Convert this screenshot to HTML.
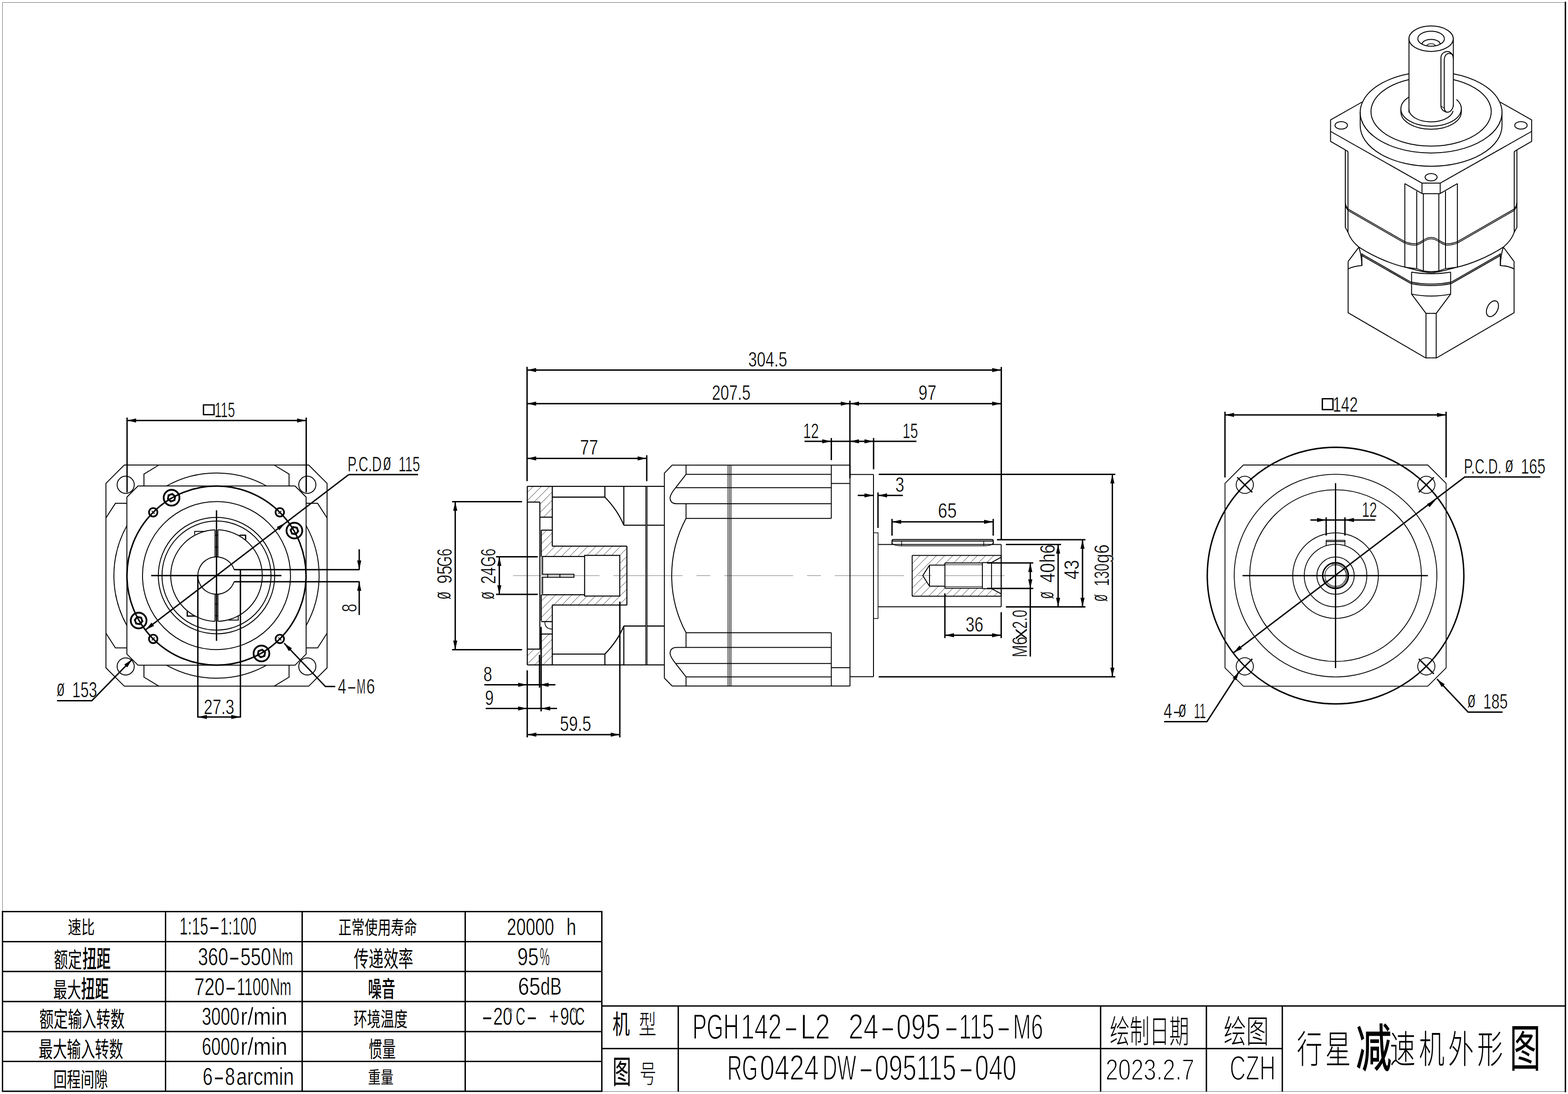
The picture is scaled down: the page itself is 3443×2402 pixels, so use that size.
<!DOCTYPE html>
<html><head><meta charset="utf-8"><title>PGH142-L2 24-095-115-M6</title>
<style>
html,body{margin:0;padding:0;background:#fff}
svg{display:block}
text{font-family:"Liberation Sans",sans-serif;white-space:pre}
text.cjk{font-family:"Liberation Sans","Noto Sans CJK SC",sans-serif}
</style></head>
<body>
<svg xmlns="http://www.w3.org/2000/svg" width="3443" height="2402" viewBox="0 0 3443 2402" fill="none" stroke-linecap="butt" stroke-linejoin="miter">
<rect width="3443" height="2402" fill="#fff" stroke="none"/>
<defs>
<clipPath id="hc1"><path d="M1157.8 1067.8L1212.7 1067.8L1212.7 1135.5L1185.4 1135.5L1185.4 1102.4L1157.8 1102.4Z" clip-rule="evenodd"/></clipPath>
<clipPath id="hc2"><path d="M1185.4 1391.7L1212.7 1391.7L1212.7 1460L1157.8 1460L1157.8 1426.5L1185.4 1426.5Z" clip-rule="evenodd"/></clipPath>
<clipPath id="hc3"><path d="M1188.5 1164L1212.7 1164L1212.7 1199.2L1376.5 1199.2L1376.5 1328.6L1212.7 1328.6L1212.7 1364.8L1188.5 1364.8L1188.5 1304.3L1283.7 1304.3L1283.7 1308.7L1360.9 1308.7L1360.9 1219.4L1283.7 1219.4L1283.7 1221.8L1188.5 1221.8Z" clip-rule="evenodd"/></clipPath>
<clipPath id="hc4"><path d="M2002.9 1219.6L2198.4 1219.6L2198.4 1308.9L2002.9 1308.9ZM2026.3 1263.8L2041 1240.7L2074.8 1240.7L2074.8 1236.1L2157.1 1236.1L2157.1 1235.2L2177.2 1235.2L2198.4 1223.3L2198.4 1303.8L2177.2 1292.4L2157.1 1292.4L2157.1 1291.9L2074.8 1291.9L2074.8 1287.3L2041 1287.3Z" clip-rule="evenodd"/></clipPath>
</defs>
<path d="M5 5.5L3437 5.5" stroke="#6a6a6a" stroke-width="1"/>
<path d="M5.5 5L5.5 2397" stroke="#6a6a6a" stroke-width="1"/>
<path d="M5 2396.5L3437 2396.5" stroke="#6a6a6a" stroke-width="1"/>
<path d="M3437.3 5L3437.3 2397" stroke="#000" stroke-width="3" stroke-linecap="round"/>
<path d="M4 2001.5L1323 2001.5" stroke="#000" stroke-width="3"/>
<path d="M4 2067.5L1323 2067.5" stroke="#000" stroke-width="3"/>
<path d="M4 2133L1323 2133" stroke="#000" stroke-width="3"/>
<path d="M4 2199L1323 2199" stroke="#000" stroke-width="3"/>
<path d="M4 2265L1323 2265" stroke="#000" stroke-width="3"/>
<path d="M4 2330.5L1323 2330.5" stroke="#000" stroke-width="3"/>
<path d="M4 2396L1323 2396" stroke="#000" stroke-width="3"/>
<path d="M5.5 2001.5L5.5 2396" stroke="#000" stroke-width="3"/>
<path d="M363.5 2001.5L363.5 2396" stroke="#000" stroke-width="3"/>
<path d="M663.5 2001.5L663.5 2396" stroke="#000" stroke-width="3"/>
<path d="M1021.5 2001.5L1021.5 2396" stroke="#000" stroke-width="3"/>
<path d="M1321.5 2001.5L1321.5 2396" stroke="#000" stroke-width="3"/>
<path d="M1321.5 2208.7L3437 2208.7" stroke="#000" stroke-width="3"/>
<path d="M1321.5 2302.3L2815.7 2302.3" stroke="#000" stroke-width="3"/>
<path d="M1489.3 2208.7L1489.3 2397" stroke="#000" stroke-width="3"/>
<path d="M2416.7 2208.7L2416.7 2397" stroke="#000" stroke-width="3"/>
<path d="M2649 2208.7L2649 2397" stroke="#000" stroke-width="3"/>
<path d="M2815.7 2208.7L2815.7 2397" stroke="#000" stroke-width="3"/>
<text class="cjk" transform="translate(149 2050) scale(1 1.363)" x="0" y="0" font-size="29.5" textLength="59" lengthAdjust="spacing" fill="#000" stroke="none">速比</text>
<text class="cjk" transform="translate(118.5 2123.5) scale(1 1.521)" x="0" y="0" font-size="30.7" textLength="61.4" lengthAdjust="spacing" fill="#000" stroke="none">额定</text>
<text class="cjk" transform="translate(181 2125) scale(1 1.719)" x="0" y="0" font-size="31" font-weight="500" textLength="62" lengthAdjust="spacing" fill="#000" stroke="none">扭距</text>
<text class="cjk" transform="translate(117 2189.5) scale(1 1.531)" x="0" y="0" font-size="30.5" textLength="61" lengthAdjust="spacing" fill="#000" stroke="none">最大</text>
<text class="cjk" transform="translate(178 2191) scale(1 1.748)" x="0" y="0" font-size="30.5" font-weight="500" textLength="61" lengthAdjust="spacing" fill="#000" stroke="none">扭距</text>
<text class="cjk" transform="translate(86.5 2255.4) scale(1 1.532)" x="0" y="0" font-size="31.2" textLength="187.2" lengthAdjust="spacing" fill="#000" stroke="none">额定输入转数</text>
<text class="cjk" transform="translate(85 2321.4) scale(1 1.547)" x="0" y="0" font-size="30.9" textLength="185.4" lengthAdjust="spacing" fill="#000" stroke="none">最大输入转数</text>
<text class="cjk" transform="translate(117 2386.6) scale(1 1.523)" x="0" y="0" font-size="30" textLength="120" lengthAdjust="spacing" fill="#000" stroke="none">回程间隙</text>
<text class="cjk" transform="translate(743 2050.9) scale(1 1.434)" x="0" y="0" font-size="28.8" textLength="172.8" lengthAdjust="spacing" fill="#000" stroke="none">正常使用寿命</text>
<text class="cjk" transform="translate(777 2123.3) scale(1 1.5)" x="0" y="0" font-size="32.6" textLength="130.4" lengthAdjust="spacing" fill="#000" stroke="none">传递效率</text>
<text class="cjk" transform="translate(808 2189.3) scale(1 1.63)" x="0" y="0" font-size="30" font-weight="500" textLength="60" lengthAdjust="spacing" fill="#000" stroke="none">噪音</text>
<text class="cjk" transform="translate(776.5 2253.7) scale(1 1.507)" x="0" y="0" font-size="29.6" textLength="118.4" lengthAdjust="spacing" fill="#000" stroke="none">环境温度</text>
<text class="cjk" transform="translate(809.5 2321.4) scale(1 1.609)" x="0" y="0" font-size="29.7" textLength="59.4" lengthAdjust="spacing" fill="#000" stroke="none">惯量</text>
<text class="cjk" transform="translate(808 2379.2) scale(1 1.321)" x="0" y="0" font-size="28" textLength="56" lengthAdjust="spacing" fill="#000" stroke="none">重量</text>
<text y="2052" font-size="53.2" fill="#000" stroke="#fff" stroke-width="0.6"><tspan x="394.2" textLength="63.1" lengthAdjust="spacingAndGlyphs">1:15</tspan><tspan x="457.7" textLength="25.9" lengthAdjust="spacingAndGlyphs">-</tspan><tspan x="483.7" textLength="79.4" lengthAdjust="spacingAndGlyphs">1:100</tspan></text>
<text y="2118.7" font-size="54.2" fill="#000" stroke="#fff" stroke-width="0.6"><tspan x="434.7" textLength="66.4" lengthAdjust="spacingAndGlyphs">360</tspan><tspan x="501.5" textLength="25.8" lengthAdjust="spacingAndGlyphs">-</tspan><tspan x="528.1" textLength="67" lengthAdjust="spacingAndGlyphs">550</tspan><tspan x="597.4" textLength="46.1" lengthAdjust="spacingAndGlyphs">Nm</tspan></text>
<text y="2184.7" font-size="54.2" fill="#000" stroke="#fff" stroke-width="0.6"><tspan x="426.8" textLength="66.4" lengthAdjust="spacingAndGlyphs">720</tspan><tspan x="493.6" textLength="25.9" lengthAdjust="spacingAndGlyphs">-</tspan><tspan x="520.3" textLength="70.9" lengthAdjust="spacingAndGlyphs">1100</tspan><tspan x="592.8" textLength="46.8" lengthAdjust="spacingAndGlyphs">Nm</tspan></text>
<text y="2250.3" font-size="54.1" fill="#000" stroke="#fff" stroke-width="0.6"><tspan x="443.2" textLength="82.7" lengthAdjust="spacingAndGlyphs">3000</tspan><tspan x="528.1" textLength="103" lengthAdjust="spacingAndGlyphs">r/min</tspan></text>
<text y="2316" font-size="54.1" fill="#000" stroke="#fff" stroke-width="0.6"><tspan x="443.2" textLength="82.7" lengthAdjust="spacingAndGlyphs">6000</tspan><tspan x="528.1" textLength="103" lengthAdjust="spacingAndGlyphs">r/min</tspan></text>
<text y="2381.6" font-size="53.5" fill="#000" stroke="#fff" stroke-width="0.6"><tspan x="445.1" textLength="22" lengthAdjust="spacingAndGlyphs">6</tspan><tspan x="468.3" textLength="25" lengthAdjust="spacingAndGlyphs">-</tspan><tspan x="494.1" textLength="22" lengthAdjust="spacingAndGlyphs">8</tspan><tspan x="519" textLength="126.4" lengthAdjust="spacingAndGlyphs">arcmin</tspan></text>
<text y="2052.5" font-size="52.5" fill="#000" stroke="#fff" stroke-width="0.6"><tspan x="1113.1" textLength="103.5" lengthAdjust="spacingAndGlyphs">20000</tspan><tspan x="1226.5" textLength="10.9" lengthAdjust="spacingAndGlyphs"> </tspan><tspan x="1243.8" textLength="21.5" lengthAdjust="spacingAndGlyphs">h</tspan></text>
<text y="2118.6" font-size="53.1" fill="#000" stroke="#fff" stroke-width="0.6"><tspan x="1135.9" textLength="46.8" lengthAdjust="spacingAndGlyphs">95</tspan><tspan x="1185.3" textLength="21.7" lengthAdjust="spacingAndGlyphs">%</tspan></text>
<text y="2184.3" font-size="53.1" fill="#000" stroke="#fff" stroke-width="0.6"><tspan x="1137.5" textLength="49.2" lengthAdjust="spacingAndGlyphs">65</tspan><tspan x="1187" textLength="46" lengthAdjust="spacingAndGlyphs">dB</tspan></text>
<text y="2250" font-size="53.1" fill="#000" stroke="#fff" stroke-width="0.6"><tspan x="1057" textLength="25.4" lengthAdjust="spacingAndGlyphs">-</tspan><tspan x="1083.1" textLength="42" lengthAdjust="spacingAndGlyphs">20</tspan><tspan x="1113.5" dy="-13.3" font-size="32.9">°</tspan><tspan x="1132.6" dy="13.3" textLength="20.9" lengthAdjust="spacingAndGlyphs">C</tspan><tspan x="1155.1" textLength="25.5" lengthAdjust="spacingAndGlyphs">-</tspan><tspan x="1184.5" textLength="13" lengthAdjust="spacingAndGlyphs"> </tspan><tspan x="1205.6" textLength="21.7" lengthAdjust="spacingAndGlyphs">+</tspan><tspan x="1230" textLength="39.5" lengthAdjust="spacingAndGlyphs">90</tspan><tspan x="1256" dy="-13.3" font-size="32.9">°</tspan><tspan x="1263" dy="13.3" textLength="21.1" lengthAdjust="spacingAndGlyphs">C</tspan></text>
<text class="cjk" transform="translate(1345 2269.7) scale(1 1.516)" x="0" y="0" font-size="38" fill="#000" stroke="none">机</text>
<text class="cjk" transform="translate(1402.5 2269.7) scale(1 1.496)" x="0" y="0" font-size="38.5" font-weight="300" fill="#000" stroke="none">型</text>
<text class="cjk" transform="translate(1345 2378.7) scale(1 1.724)" x="0" y="0" font-size="41" fill="#000" stroke="none">图</text>
<text class="cjk" transform="translate(1404.5 2376.9) scale(1 1.488)" x="0" y="0" font-size="36.5" font-weight="300" fill="#000" stroke="none">号</text>
<text y="2280.6" font-size="78.2" fill="#000" stroke="#fff" stroke-width="2"><tspan x="1520.4" textLength="102" lengthAdjust="spacingAndGlyphs">PGH</tspan><tspan x="1626.7" textLength="89.8" lengthAdjust="spacingAndGlyphs">142</tspan><tspan x="1720.4" textLength="33.3" lengthAdjust="spacingAndGlyphs">-</tspan><tspan x="1757.4" textLength="65.4" lengthAdjust="spacingAndGlyphs">L2</tspan><tspan x="1837.8" textLength="14.4" lengthAdjust="spacingAndGlyphs"> </tspan><tspan x="1863" textLength="66" lengthAdjust="spacingAndGlyphs">24</tspan><tspan x="1931.7" textLength="34.8" lengthAdjust="spacingAndGlyphs">-</tspan><tspan x="1968.2" textLength="96.7" lengthAdjust="spacingAndGlyphs">095</tspan><tspan x="2072.4" textLength="33.2" lengthAdjust="spacingAndGlyphs">-</tspan><tspan x="2105.8" textLength="77.6" lengthAdjust="spacingAndGlyphs">115</tspan><tspan x="2187.3" textLength="33.3" lengthAdjust="spacingAndGlyphs">-</tspan><tspan x="2224.3" textLength="66.1" lengthAdjust="spacingAndGlyphs">M6</tspan></text>
<text y="2370.7" font-size="77" fill="#000" stroke="#fff" stroke-width="2"><tspan x="1597.1" textLength="67" lengthAdjust="spacingAndGlyphs">RG</tspan><tspan x="1668.5" textLength="129.8" lengthAdjust="spacingAndGlyphs">0424</tspan><tspan x="1806.2" textLength="73.9" lengthAdjust="spacingAndGlyphs">DW</tspan><tspan x="1883.9" textLength="35.6" lengthAdjust="spacingAndGlyphs">-</tspan><tspan x="1921.1" textLength="178.6" lengthAdjust="spacingAndGlyphs">095115</tspan><tspan x="2103.4" textLength="35.6" lengthAdjust="spacingAndGlyphs">-</tspan><tspan x="2140.7" textLength="91.4" lengthAdjust="spacingAndGlyphs">040</tspan></text>
<text class="cjk" transform="translate(2437 2289.7) scale(1 1.625)" x="0" y="0" font-size="43.5" font-weight="300" textLength="174" lengthAdjust="spacing" fill="#000" stroke="none">绘制日期</text>
<text x="2427.5" y="2370.5" font-size="65.4" textLength="195" lengthAdjust="spacingAndGlyphs" fill="#000" stroke="#fff" stroke-width="2">2023.2.7</text>
<text class="cjk" transform="translate(2687 2289.7) scale(1 1.428)" x="0" y="0" font-size="49.5" font-weight="300" textLength="99" lengthAdjust="spacing" fill="#000" stroke="none">绘图</text>
<text x="2700" y="2370.5" font-size="75.6" textLength="101" lengthAdjust="spacingAndGlyphs" fill="#000" stroke="#fff" stroke-width="2.6">CZH</text>
<text class="cjk" transform="translate(2847.6 2333.7) scale(1 1.487)" x="0" y="0" font-size="56.3" font-weight="300" textLength="118.8" lengthAdjust="spacing" fill="#000" stroke="none">行星</text>
<text class="cjk" transform="translate(2977 2341.5) scale(1 1.43)" x="0" y="0" font-size="79" font-weight="500" fill="#000" stroke="none">减</text>
<text class="cjk" transform="translate(3051.8 2333.7) scale(1 1.487)" x="0" y="0" font-size="56.3" font-weight="300" textLength="248.3" lengthAdjust="spacing" fill="#000" stroke="none">速机外形</text>
<text class="cjk" transform="translate(3315 2341.7) scale(1 1.631)" x="0" y="0" font-size="68" fill="#000" stroke="none">图</text>
<path d="M272.9 1021L677.9 1021L718.2 1061.3L718.2 1466.3L677.9 1506.6L272.9 1506.6L232.6 1466.3L232.6 1061.3Z" stroke="#000" stroke-width="2"/>
<path d="M303.1 1067L647.7 1067L672.2 1091.5L672.2 1436.1L647.7 1460.6L303.1 1460.6L278.6 1436.1L278.6 1091.5Z" stroke="#000" stroke-width="2"/>
<path d="M316.1 1067L316.1 1040.8L348.9 1021" stroke="#000" stroke-width="2"/>
<path d="M278.6 1105.1L253.4 1105.1L232.6 1137.3" stroke="#000" stroke-width="2"/>
<circle cx="276" cy="1064.4" r="18.8" stroke="#000" stroke-width="2"/>
<path d="M316.1 1460.6L316.1 1486.8L348.9 1506.6" stroke="#000" stroke-width="2"/>
<path d="M278.6 1422.5L253.4 1422.5L232.6 1390.3" stroke="#000" stroke-width="2"/>
<circle cx="276" cy="1463.2" r="18.8" stroke="#000" stroke-width="2"/>
<path d="M634.7 1067L634.7 1040.8L601.9 1021" stroke="#000" stroke-width="2"/>
<path d="M672.2 1105.1L697.4 1105.1L718.2 1137.3" stroke="#000" stroke-width="2"/>
<circle cx="674.8" cy="1064.4" r="18.8" stroke="#000" stroke-width="2"/>
<path d="M634.7 1460.6L634.7 1486.8L601.9 1506.6" stroke="#000" stroke-width="2"/>
<path d="M672.2 1422.5L697.4 1422.5L718.2 1390.3" stroke="#000" stroke-width="2"/>
<circle cx="674.8" cy="1463.2" r="18.8" stroke="#000" stroke-width="2"/>
<path d="M585.08 1067.00A225.3 225.3 0 0 0 365.72 1067.00" stroke="#000" stroke-width="2"/>
<path d="M365.72 1460.60A225.3 225.3 0 0 0 585.08 1460.60" stroke="#000" stroke-width="2"/>
<path d="M672.20 1373.48A225.3 225.3 0 0 0 672.20 1154.12" stroke="#000" stroke-width="2"/>
<path d="M278.60 1154.12A225.3 225.3 0 0 0 278.60 1373.48" stroke="#000" stroke-width="2"/>
<circle cx="475.4" cy="1263.8" r="196.6" stroke="#000" stroke-width="3.2"/>
<circle cx="475.4" cy="1263.8" r="162.5" stroke="#000" stroke-width="2"/>
<circle cx="475.4" cy="1263.8" r="127.8" stroke="#000" stroke-width="2"/>
<circle cx="475.4" cy="1263.8" r="119.7" stroke="#000" stroke-width="2"/>
<path d="M472.25 1163.35A100.5 100.5 0 0 0 472.25 1364.25" stroke="#000" stroke-width="2"/>
<path d="M478.55 1364.25A100.5 100.5 0 0 0 478.55 1163.35" stroke="#000" stroke-width="2"/>
<path d="M514.25 1250.70A41 41 0 1 0 514.15 1277.20" stroke="#000" stroke-width="2"/>
<path d="M514.2 1250.7L789.6 1250.7" stroke="#000" stroke-width="3"/>
<path d="M514.2 1277.2L789.6 1277.2" stroke="#000" stroke-width="3"/>
<path d="M472.2 1163.4L472.2 1222.9" stroke="#000" stroke-width="2"/>
<path d="M472.2 1304.7L472.2 1364.2" stroke="#000" stroke-width="2"/>
<path d="M478.5 1163.4L478.5 1222.9" stroke="#000" stroke-width="2"/>
<path d="M478.5 1304.7L478.5 1364.2" stroke="#000" stroke-width="2"/>
<path d="M472.2 1175.2L478.5 1175.2" stroke="#000" stroke-width="2"/>
<path d="M472.2 1201.4L478.5 1201.4" stroke="#000" stroke-width="2"/>
<path d="M472.2 1325.8L478.5 1325.8" stroke="#000" stroke-width="2"/>
<path d="M472.2 1352L478.5 1352" stroke="#000" stroke-width="2"/>
<path d="M451 1166.7L427.4 1166.7L427.4 1173.7" stroke="#000" stroke-width="2"/>
<path d="M525.8 1175.2L539.3 1175.2L539.3 1185" stroke="#000" stroke-width="2.8"/>
<path d="M411.2 1341.5L411.2 1352.7L428.4 1352.7" stroke="#000" stroke-width="2.8"/>
<path d="M501.8 1361.4L523.1 1361.4L523.1 1352.7" stroke="#000" stroke-width="2"/>
<path d="M475.4 1120.5L475.4 1407.1" stroke="#000" stroke-width="3"/>
<path d="M332 1263.8L618 1263.8" stroke="#000" stroke-width="3"/>
<path d="M434.4 1263.8L434.4 1575.5" stroke="#000" stroke-width="3"/>
<path d="M527.9 1250.7L527.9 1575.5" stroke="#000" stroke-width="3"/>
<path d="M434.4 1574.2L527.9 1574.2" stroke="#000" stroke-width="3"/>
<path d="M434.4 1574.2L454.4 1569.7L454.4 1578.7Z" fill="#000" stroke="none"/>
<path d="M527.9 1574.2L507.9 1578.7L507.9 1569.7Z" fill="#000" stroke="none"/>
<text x="447.5" y="1568.2" font-size="46.9" textLength="67" lengthAdjust="spacingAndGlyphs" fill="#000" stroke="#fff" stroke-width="0.6">27.3</text>
<circle cx="336.4" cy="1124.8" r="9.3" stroke="#000" stroke-width="3.6"/>
<path d="M333.2 1121.6L339.6 1128" stroke="#000" stroke-width="1.8"/>
<path d="M333.2 1128L339.6 1121.6" stroke="#000" stroke-width="1.8"/>
<circle cx="336.4" cy="1402.8" r="9.3" stroke="#000" stroke-width="3.6"/>
<path d="M333.2 1399.6L339.6 1406" stroke="#000" stroke-width="1.8"/>
<path d="M333.2 1406L339.6 1399.6" stroke="#000" stroke-width="1.8"/>
<circle cx="614.4" cy="1124.8" r="9.3" stroke="#000" stroke-width="3.6"/>
<path d="M611.2 1121.6L617.6 1128" stroke="#000" stroke-width="1.8"/>
<path d="M611.2 1128L617.6 1121.6" stroke="#000" stroke-width="1.8"/>
<circle cx="614.4" cy="1402.8" r="9.3" stroke="#000" stroke-width="3.6"/>
<path d="M611.2 1399.6L617.6 1406" stroke="#000" stroke-width="1.8"/>
<path d="M611.2 1406L617.6 1399.6" stroke="#000" stroke-width="1.8"/>
<circle cx="646.4" cy="1165" r="17.3" stroke="#000" stroke-width="3.9"/>
<path d="M652.4 1157.9L643.3 1156.3L637.3 1163.4L640.5 1172.2L649.6 1173.8L655.6 1166.7Z" stroke="#000" stroke-width="2.4"/>
<circle cx="646.4" cy="1165" r="6.6" stroke="#000" stroke-width="2"/>
<circle cx="376.7" cy="1092.8" r="17.3" stroke="#000" stroke-width="3.9"/>
<path d="M369.5 1086.8L367.9 1095.9L375 1101.9L383.8 1098.7L385.4 1089.6L378.3 1083.6Z" stroke="#000" stroke-width="2.4"/>
<circle cx="376.7" cy="1092.8" r="6.6" stroke="#000" stroke-width="2"/>
<circle cx="304.4" cy="1362.5" r="17.3" stroke="#000" stroke-width="3.9"/>
<path d="M298.4 1369.7L307.5 1371.3L313.5 1364.2L310.3 1355.4L301.2 1353.8L295.2 1360.9Z" stroke="#000" stroke-width="2.4"/>
<circle cx="304.4" cy="1362.5" r="6.6" stroke="#000" stroke-width="2"/>
<circle cx="574.1" cy="1434.8" r="17.3" stroke="#000" stroke-width="3.9"/>
<path d="M581.3 1440.8L582.9 1431.7L575.8 1425.7L567 1428.9L565.4 1438L572.5 1444Z" stroke="#000" stroke-width="2.4"/>
<circle cx="574.1" cy="1434.8" r="6.6" stroke="#000" stroke-width="2"/>
<path d="M319.6 1382.8L765.7 1042.1" stroke="#000" stroke-width="3"/>
<path d="M765.7 1042.1L918 1042.1" stroke="#000" stroke-width="3"/>
<path d="M319.6 1382.8L332.8 1367L338.3 1374.2Z" fill="#000" stroke="none"/>
<path d="M626.4 1148.5L613.2 1164.2L607.8 1157Z" fill="#000" stroke="none"/>
<text y="1035.1" font-size="46.4" fill="#000" stroke="#fff" stroke-width="0.6"><tspan x="763.2" textLength="75" lengthAdjust="spacingAndGlyphs">P.C.D</tspan><tspan x="840.4" dy="-3.2" font-size="51" textLength="18.8" lengthAdjust="spacingAndGlyphs">ø</tspan><tspan x="862.7" dy="3.2" textLength="8.6" lengthAdjust="spacingAndGlyphs"> </tspan><tspan x="874.9" textLength="47.3" lengthAdjust="spacingAndGlyphs">115</tspan></text>
<path d="M279 916.8L279 1081" stroke="#000" stroke-width="3"/>
<path d="M672.4 916.8L672.4 1081" stroke="#000" stroke-width="3"/>
<path d="M279 923.3L672.4 923.3" stroke="#000" stroke-width="3"/>
<path d="M279 923.3L299 918.8L299 927.8Z" fill="#000" stroke="none"/>
<path d="M672.4 923.3L652.4 927.8L652.4 918.8Z" fill="#000" stroke="none"/>
<rect x="446.8" y="889" width="23.2" height="21.4" stroke="#000" stroke-width="2.8"/>
<text x="471" y="915.9" font-size="46.9" textLength="45" lengthAdjust="spacingAndGlyphs" fill="#000" stroke="#fff" stroke-width="0.6">115</text>
<path d="M290.1 1447.7L201.6 1538.6L125.2 1538.6" stroke="#000" stroke-width="3"/>
<path d="M290.1 1447.7L279.4 1465.2L272.9 1458.9Z" fill="#000" stroke="none"/>
<text y="1531.3" font-size="47.5" fill="#000" stroke="#fff" stroke-width="0.6"><tspan x="124" dy="-3.3" font-size="52.3" textLength="18.3" lengthAdjust="spacingAndGlyphs">ø</tspan><tspan x="145.7" dy="3.3" textLength="8.7" lengthAdjust="spacingAndGlyphs"> </tspan><tspan x="158.6" textLength="54.5" lengthAdjust="spacingAndGlyphs">153</tspan></text>
<path d="M623.9 1412.2L714.5 1507.2L736.2 1507.2" stroke="#000" stroke-width="3"/>
<path d="M623.9 1412.2L641 1423.6L634.4 1429.8Z" fill="#000" stroke="none"/>
<text y="1522.6" font-size="46.7" fill="#000" stroke="#fff" stroke-width="0.6"><tspan x="741.7" textLength="18.5" lengthAdjust="spacingAndGlyphs">4</tspan><tspan x="761" textLength="22.5" lengthAdjust="spacingAndGlyphs">-</tspan><tspan x="783.3" textLength="19.5" lengthAdjust="spacingAndGlyphs">M</tspan><tspan x="804.4" textLength="18.8" lengthAdjust="spacingAndGlyphs">6</tspan></text>
<path d="M788.8 1206.2L788.8 1250.6" stroke="#000" stroke-width="3"/>
<path d="M788.8 1250.6L784.3 1230.6L793.3 1230.6Z" fill="#000" stroke="none"/>
<path d="M788.8 1277.2L788.8 1350.3" stroke="#000" stroke-width="3"/>
<path d="M788.8 1277.2L793.3 1297.2L784.3 1297.2Z" fill="#000" stroke="none"/>
<text transform="translate(782.6 1335) rotate(-90)" x="-9" y="0" font-size="46.9" textLength="18.5" lengthAdjust="spacingAndGlyphs" fill="#000" stroke="#fff" stroke-width="0.6">8</text>
<path d="M1103.6 1135.5L1171.3 1067.8M1121.5 1135.5L1189.2 1067.8M1139.5 1135.5L1207.2 1067.8M1157.4 1135.5L1225.1 1067.8M1175.4 1135.5L1243.1 1067.8M1193.3 1135.5L1261 1067.8M1211.3 1135.5L1279 1067.8" stroke="#2a2a2a" stroke-width="1" clip-path="url(#hc1)"/>
<path d="M1102.2 1460L1170.5 1391.7M1120.2 1460L1188.5 1391.7M1138.1 1460L1206.4 1391.7M1156 1460L1224.3 1391.7M1174 1460L1242.3 1391.7M1191.9 1460L1260.2 1391.7M1209.9 1460L1278.2 1391.7" stroke="#2a2a2a" stroke-width="1" clip-path="url(#hc2)"/>
<path d="M1000 1364.8L1200.8 1164M1017.9 1364.8L1218.7 1164M1035.9 1364.8L1236.7 1164M1053.8 1364.8L1254.6 1164M1071.7 1364.8L1272.5 1164M1089.7 1364.8L1290.5 1164M1107.6 1364.8L1308.4 1164M1125.6 1364.8L1326.4 1164M1143.5 1364.8L1344.3 1164M1161.5 1364.8L1362.3 1164M1179.5 1364.8L1380.2 1164M1197.4 1364.8L1398.2 1164M1215.4 1364.8L1416.2 1164M1233.3 1364.8L1434.1 1164M1251.2 1364.8L1452 1164M1269.2 1364.8L1470 1164M1287.1 1364.8L1487.9 1164M1305.1 1364.8L1505.9 1164M1323 1364.8L1523.8 1164M1341 1364.8L1541.8 1164M1359 1364.8L1559.8 1164" stroke="#2a2a2a" stroke-width="1" clip-path="url(#hc3)"/>
<path d="M1931.5 1308.9L2020.8 1219.6M1949.4 1308.9L2038.8 1219.6M1967.4 1308.9L2056.7 1219.6M1985.3 1308.9L2074.7 1219.6M2003.3 1308.9L2092.6 1219.6M2021.2 1308.9L2110.6 1219.6M2039.2 1308.9L2128.5 1219.6M2057.2 1308.9L2146.5 1219.6M2075.1 1308.9L2164.4 1219.6M2093.1 1308.9L2182.4 1219.6M2111 1308.9L2200.3 1219.6M2128.9 1308.9L2218.2 1219.6M2146.9 1308.9L2236.2 1219.6M2164.8 1308.9L2254.2 1219.6M2182.8 1308.9L2272.1 1219.6" stroke="#2a2a2a" stroke-width="1" clip-path="url(#hc4)"/>
<path d="M1126.6 1263.8L1316.5 1263.8" stroke="#8a8a8a" stroke-width="1.3"/>
<path d="M1346.9 1263.8L1498.8 1263.8" stroke="#8a8a8a" stroke-width="1.3"/>
<path d="M1529.3 1263.8L1559.8 1263.8" stroke="#8a8a8a" stroke-width="1.3"/>
<path d="M1590.3 1263.8L1741.6 1263.8" stroke="#8a8a8a" stroke-width="1.3"/>
<path d="M1772.1 1263.8L1802.6 1263.8" stroke="#8a8a8a" stroke-width="1.3"/>
<path d="M1833 1263.8L1985.2 1263.8" stroke="#8a8a8a" stroke-width="1.3"/>
<path d="M2015.4 1263.8L2045.5 1263.8" stroke="#8a8a8a" stroke-width="1.3"/>
<path d="M2074.8 1263.8L2205.6 1263.8" stroke="#8a8a8a" stroke-width="1.3"/>
<path d="M1157.8 1067.8L1157.8 1460" stroke="#000" stroke-width="2.3"/>
<path d="M1157.8 1067.8L1459.2 1067.8" stroke="#000" stroke-width="2.3"/>
<path d="M1157.8 1459.8L1459.2 1459.8" stroke="#000" stroke-width="2.3"/>
<path d="M1212.7 1067.8L1212.7 1199.2" stroke="#000" stroke-width="2.3"/>
<path d="M1212.7 1459.8L1212.7 1328.4" stroke="#000" stroke-width="2.3"/>
<path d="M1157.8 1102.4L1185.4 1102.4" stroke="#000" stroke-width="2.3"/>
<path d="M1157.8 1425.2L1185.4 1425.2" stroke="#000" stroke-width="2.3"/>
<path d="M1185.4 1102.4L1185.4 1426.5" stroke="#000" stroke-width="2.3"/>
<path d="M1185.4 1135.5L1212.7 1135.5" stroke="#000" stroke-width="2.3"/>
<path d="M1185.4 1392.1L1212.7 1392.1" stroke="#000" stroke-width="2.3"/>
<path d="M1188.5 1164L1212.7 1164" stroke="#000" stroke-width="2.3"/>
<path d="M1188.5 1364.8L1212.7 1364.8" stroke="#000" stroke-width="2.3"/>
<path d="M1188.5 1164L1188.5 1221.8" stroke="#000" stroke-width="2.3"/>
<path d="M1188.5 1363.6L1188.5 1305.8" stroke="#000" stroke-width="2.3"/>
<path d="M1212.7 1199.2L1376.5 1199.2" stroke="#000" stroke-width="2.3"/>
<path d="M1212.7 1328.4L1376.5 1328.4" stroke="#000" stroke-width="2.3"/>
<path d="M1376.5 1199.2L1376.5 1328.6" stroke="#000" stroke-width="2.3"/>
<path d="M1188.5 1221.8L1283.7 1221.8" stroke="#000" stroke-width="2.3"/>
<path d="M1188.5 1305.8L1283.7 1305.8" stroke="#000" stroke-width="2.3"/>
<rect x="1283.7" y="1219.4" width="77.2" height="89.3" stroke="#000" stroke-width="2.2"/>
<rect x="1188.5" y="1221.8" width="3.2" height="39" fill="#777" stroke="none"/>
<rect x="1188.5" y="1267.5" width="3.2" height="36.8" fill="#777" stroke="none"/>
<path d="M1191.7 1221.8L1191.7 1260.8" stroke="#000" stroke-width="1.5"/>
<path d="M1191.7 1267.5L1191.7 1304.3" stroke="#000" stroke-width="1.5"/>
<rect x="1202.6" y="1260.8" width="57.7" height="6.7" stroke="#000" stroke-width="2"/>
<path d="M1189.3 1260.8L1202.6 1260.8" stroke="#000" stroke-width="2"/>
<path d="M1189.3 1267.5L1202.6 1267.5" stroke="#000" stroke-width="2"/>
<path d="M1229.4 1260.8L1229.4 1267.5" stroke="#000" stroke-width="2"/>
<path d="M1196.3 1364.8Q1196.3 1381.2 1212.7 1381.2" stroke="#000" stroke-width="1.6"/>
<path d="M1212.7 1091.5L1328.2 1091.5" stroke="#000" stroke-width="2.3"/>
<path d="M1212.7 1436.1L1328.2 1436.1" stroke="#000" stroke-width="2.3"/>
<path d="M1328.2 1067.8L1328.2 1091.5" stroke="#000" stroke-width="2.3"/>
<path d="M1328.2 1459.8L1328.2 1436.1" stroke="#000" stroke-width="2.3"/>
<path d="M1369.8 1067.8L1369.8 1153.1" stroke="#000" stroke-width="2.3"/>
<path d="M1369.8 1459.8L1369.8 1374.5" stroke="#000" stroke-width="2.3"/>
<path d="M1369.8 1153.1L1459.2 1153.1" stroke="#000" stroke-width="2.3"/>
<path d="M1369.8 1374.5L1459.2 1374.5" stroke="#000" stroke-width="2.3"/>
<path d="M1328.2 1091.5Q1356 1120 1369.8 1153.1" stroke="#000" stroke-width="2.3"/>
<path d="M1328.2 1436.1Q1356 1407.6 1369.8 1374.5" stroke="#000" stroke-width="2.3"/>
<rect x="1417.9" y="1067.8" width="3.1" height="392.2" fill="#888" stroke="#000" stroke-width="1.4"/>
<path d="M1458.8 1488.8L1458.8 1038.8L1475.9 1021.3L1866.4 1021.3" stroke="#000" stroke-width="2"/>
<path d="M1458.8 1488.8L1475.9 1506.3L1866.4 1506.3" stroke="#000" stroke-width="2"/>
<path d="M1506.4 1021.3L1506.4 1041.4" stroke="#000" stroke-width="2"/>
<path d="M1506.4 1506.3L1506.4 1486.2" stroke="#000" stroke-width="2"/>
<path d="M1506.4 1041.4L1825.4 1041.4" stroke="#000" stroke-width="2"/>
<path d="M1506.4 1486.2L1825.4 1486.2" stroke="#000" stroke-width="2"/>
<path d="M1506.4 1041.4L1483.6 1070.8" stroke="#000" stroke-width="2"/>
<path d="M1483.6 1070.8C1476 1080 1470 1090 1471.6 1096C1473 1103 1478 1106 1486 1106" stroke="#000" stroke-width="2"/>
<path d="M1506.4 1486.2L1483.6 1456.8" stroke="#000" stroke-width="2"/>
<path d="M1483.6 1456.8C1476 1447.6 1470 1437.6 1471.6 1431.6C1473 1424.6 1478 1421.6 1486 1421.6" stroke="#000" stroke-width="2"/>
<path d="M1483.6 1070.8L1825.4 1070.8" stroke="#000" stroke-width="2"/>
<path d="M1483.6 1456.8L1825.4 1456.8" stroke="#000" stroke-width="2"/>
<path d="M1486 1106L1825.4 1106" stroke="#000" stroke-width="2"/>
<path d="M1486 1421.6L1825.4 1421.6" stroke="#000" stroke-width="2"/>
<path d="M1506.4 1106L1506.4 1138.3" stroke="#000" stroke-width="2"/>
<path d="M1506.4 1421.6L1506.4 1389.3" stroke="#000" stroke-width="2"/>
<path d="M1506.4 1138.3L1825.4 1138.3" stroke="#000" stroke-width="2"/>
<path d="M1506.4 1389.3L1825.4 1389.3" stroke="#000" stroke-width="2"/>
<path d="M1825.4 1021.3L1825.4 1138.3" stroke="#000" stroke-width="2"/>
<path d="M1825.4 1506.3L1825.4 1389.3" stroke="#000" stroke-width="2"/>
<path d="M1506.4 1138.3A265.8 265.8 0 0 0 1506.4 1389.3" stroke="#000" stroke-width="2"/>
<path d="M1598.5 1021.3L1598.5 1506.3" stroke="#000" stroke-width="1.4"/>
<path d="M1601.9 1021.3L1601.9 1506.3" stroke="#000" stroke-width="1.4"/>
<path d="M1605.2 1021.3L1605.2 1506.3" stroke="#000" stroke-width="1.4"/>
<path d="M1866.4 1021.3L1866.4 1506.3" stroke="#000" stroke-width="2"/>
<path d="M1825.4 1061.6L1866.4 1061.6" stroke="#000" stroke-width="2"/>
<path d="M1825.4 1466L1866.4 1466" stroke="#000" stroke-width="2"/>
<path d="M1866.4 1041.8L1918 1041.8" stroke="#000" stroke-width="2"/>
<path d="M1866.4 1485.8L1918 1485.8" stroke="#000" stroke-width="2"/>
<path d="M1918 1041.8L1918 1485.8" stroke="#000" stroke-width="2"/>
<rect x="1918" y="1169.7" width="10" height="188.3" stroke="#000" stroke-width="1.5"/>
<path d="M1928 1195.4L2198.4 1195.4" stroke="#000" stroke-width="2"/>
<path d="M1928 1332.2L2198.4 1332.2" stroke="#000" stroke-width="2"/>
<path d="M2198.4 1195.4L2198.4 1332.2" stroke="#000" stroke-width="2"/>
<path d="M1958.7 1195.4L1958.7 1187.5Q1958.7 1184.6 1961.6 1184.6L2178 1184.6Q2180.9 1184.6 2180.9 1187.5L2180.9 1195.4" stroke="#000" stroke-width="2.3"/>
<path d="M1958.7 1188L2180.9 1188" stroke="#000" stroke-width="2.2"/>
<path d="M1958.7 1192Q1962 1198.6 1979.7 1198.6L2160.2 1198.6Q2178 1198.6 2180.9 1192" stroke="#000" stroke-width="1.5"/>
<path d="M1979.7 1188.2L1979.7 1198.6" stroke="#000" stroke-width="1.5"/>
<path d="M2160.2 1188.2L2160.2 1198.6" stroke="#000" stroke-width="1.5"/>
<path d="M2002.9 1219.6L2198.4 1219.6L2198.4 1308.9L2002.9 1308.9" stroke="#000" stroke-width="2"/>
<path d="M2002.9 1308.9L2002.9 1219.6" stroke="#000" stroke-width="2"/>
<path d="M2041 1240.7L2026.3 1263.8L2041 1287.3" stroke="#000" stroke-width="2"/>
<path d="M2041 1240.7L2041 1287.3" stroke="#000" stroke-width="2"/>
<path d="M2041 1240.7L2074.8 1240.7" stroke="#000" stroke-width="2"/>
<path d="M2041 1286.9L2074.8 1286.9" stroke="#000" stroke-width="2"/>
<path d="M2074.8 1236.1L2074.8 1291.9" stroke="#000" stroke-width="2"/>
<path d="M2074.8 1236.1L2157.1 1236.1" stroke="#000" stroke-width="2"/>
<path d="M2074.8 1291.5L2157.1 1291.5" stroke="#000" stroke-width="2"/>
<path d="M2074.8 1239.8L2157.1 1239.8" stroke="#000" stroke-width="1.2"/>
<path d="M2074.8 1287.8L2157.1 1287.8" stroke="#000" stroke-width="1.2"/>
<path d="M2157.1 1235.2L2157.1 1292.4" stroke="#000" stroke-width="2"/>
<path d="M2177.2 1235.2L2177.2 1292.4" stroke="#000" stroke-width="2"/>
<path d="M2157.1 1235.2L2177.2 1235.2" stroke="#000" stroke-width="2"/>
<path d="M2157.1 1292.4L2177.2 1292.4" stroke="#000" stroke-width="2"/>
<path d="M2177.2 1235.2L2198.4 1223.3" stroke="#000" stroke-width="2"/>
<path d="M2177.2 1292.4L2198.4 1303.8" stroke="#000" stroke-width="2"/>
<path d="M1157.3 805.4L1157.3 1056.4" stroke="#000" stroke-width="3"/>
<path d="M1157.3 812.4L2198.6 812.4" stroke="#000" stroke-width="3"/>
<path d="M1157.3 812.4L1177.3 807.9L1177.3 816.9Z" fill="#000" stroke="none"/>
<path d="M2198.6 812.4L2178.6 816.9L2178.6 807.9Z" fill="#000" stroke="none"/>
<path d="M2198.6 805.7L2198.6 1185" stroke="#000" stroke-width="3"/>
<path d="M1157.3 886.2L1866.2 886.2" stroke="#000" stroke-width="3"/>
<path d="M1157.3 886.2L1177.3 881.7L1177.3 890.7Z" fill="#000" stroke="none"/>
<path d="M1866.2 886.2L1846.2 890.7L1846.2 881.7Z" fill="#000" stroke="none"/>
<path d="M1866.2 886.2L2198.6 886.2" stroke="#000" stroke-width="3"/>
<path d="M1866.2 886.2L1886.2 881.7L1886.2 890.7Z" fill="#000" stroke="none"/>
<path d="M2198.6 886.2L2178.6 890.7L2178.6 881.7Z" fill="#000" stroke="none"/>
<path d="M1866.2 879.7L1866.2 1050" stroke="#000" stroke-width="3"/>
<path d="M1157.3 1006.4L1420.1 1006.4" stroke="#000" stroke-width="3"/>
<path d="M1157.3 1006.4L1177.3 1001.9L1177.3 1010.9Z" fill="#000" stroke="none"/>
<path d="M1420.1 1006.4L1400.1 1010.9L1400.1 1001.9Z" fill="#000" stroke="none"/>
<path d="M1420.1 999.4L1420.1 1056.4" stroke="#000" stroke-width="3"/>
<path d="M1766.6 969L2012.3 969" stroke="#000" stroke-width="3"/>
<path d="M1825.4 961.7L1825.4 1010.3" stroke="#000" stroke-width="3"/>
<path d="M1918.2 961.7L1918.2 1030.4" stroke="#000" stroke-width="3"/>
<path d="M1825.4 969L1805.4 973.5L1805.4 964.5Z" fill="#000" stroke="none"/>
<path d="M1866.2 969L1886.2 964.5L1886.2 973.5Z" fill="#000" stroke="none"/>
<path d="M1918.2 969L1898.2 973.5L1898.2 964.5Z" fill="#000" stroke="none"/>
<path d="M1883.4 1087.7L1918.2 1087.7" stroke="#000" stroke-width="3"/>
<path d="M1918.2 1087.7L1898.2 1092.2L1898.2 1083.2Z" fill="#000" stroke="none"/>
<path d="M1927.9 1087.7L1982.5 1087.7" stroke="#000" stroke-width="3"/>
<path d="M1927.9 1087.7L1947.9 1083.2L1947.9 1092.2Z" fill="#000" stroke="none"/>
<path d="M1927.9 1081.2L1927.9 1159.1" stroke="#000" stroke-width="3"/>
<path d="M1958.7 1145.8L2180.9 1145.8" stroke="#000" stroke-width="3"/>
<path d="M1958.7 1145.8L1978.7 1141.3L1978.7 1150.3Z" fill="#000" stroke="none"/>
<path d="M2180.9 1145.8L2160.9 1150.3L2160.9 1141.3Z" fill="#000" stroke="none"/>
<path d="M1958.7 1139.3L1958.7 1176" stroke="#000" stroke-width="3"/>
<path d="M2180.9 1139.3L2180.9 1176" stroke="#000" stroke-width="3"/>
<path d="M2074.8 1394.7L2198.4 1394.7" stroke="#000" stroke-width="3"/>
<path d="M2074.8 1394.7L2094.8 1390.2L2094.8 1399.2Z" fill="#000" stroke="none"/>
<path d="M2198.4 1394.7L2178.4 1399.2L2178.4 1390.2Z" fill="#000" stroke="none"/>
<path d="M2074.8 1302.7L2074.8 1401" stroke="#000" stroke-width="3"/>
<path d="M2198.4 1344.2L2198.4 1401" stroke="#000" stroke-width="3"/>
<path d="M2262.3 1236.1L2262.3 1441.6" stroke="#000" stroke-width="3"/>
<path d="M2262.3 1236.1L2266.8 1256.1L2257.8 1256.1Z" fill="#000" stroke="none"/>
<path d="M2262.3 1291.9L2257.8 1271.9L2266.8 1271.9Z" fill="#000" stroke="none"/>
<path d="M2167.5 1236.1L2268.8 1236.1" stroke="#000" stroke-width="3"/>
<path d="M2167.5 1291.9L2268.8 1291.9" stroke="#000" stroke-width="3"/>
<path d="M2323.4 1195.6L2323.4 1332.6" stroke="#000" stroke-width="3"/>
<path d="M2323.4 1195.6L2327.9 1215.6L2318.9 1215.6Z" fill="#000" stroke="none"/>
<path d="M2323.4 1332.6L2318.9 1312.6L2327.9 1312.6Z" fill="#000" stroke="none"/>
<path d="M2208.8 1195.6L2329.9 1195.6" stroke="#000" stroke-width="3"/>
<path d="M2377 1185L2377 1332.6" stroke="#000" stroke-width="3"/>
<path d="M2377 1185L2381.5 1205L2372.5 1205Z" fill="#000" stroke="none"/>
<path d="M2377 1332.6L2372.5 1312.6L2381.5 1312.6Z" fill="#000" stroke="none"/>
<path d="M2189 1185L2383.4 1185" stroke="#000" stroke-width="3"/>
<path d="M2208.8 1332.6L2383.4 1332.6" stroke="#000" stroke-width="3"/>
<path d="M2442.5 1041.6L2442.5 1486" stroke="#000" stroke-width="3"/>
<path d="M2442.5 1041.6L2447 1061.6L2438 1061.6Z" fill="#000" stroke="none"/>
<path d="M2442.5 1486L2438 1466L2447 1466Z" fill="#000" stroke="none"/>
<path d="M1929.5 1041.6L2449 1041.6" stroke="#000" stroke-width="3"/>
<path d="M1929.5 1486L2449 1486" stroke="#000" stroke-width="3"/>
<path d="M999.6 1101.5L999.6 1426.5" stroke="#000" stroke-width="3"/>
<path d="M999.6 1101.5L1004.1 1121.5L995.1 1121.5Z" fill="#000" stroke="none"/>
<path d="M999.6 1426.5L995.1 1406.5L1004.1 1406.5Z" fill="#000" stroke="none"/>
<path d="M992.7 1101.5L1146.3 1101.5" stroke="#000" stroke-width="3"/>
<path d="M992.7 1426.5L1146.3 1426.5" stroke="#000" stroke-width="3"/>
<path d="M1096.4 1222.5L1096.4 1304.9" stroke="#000" stroke-width="3"/>
<path d="M1096.4 1222.5L1100.9 1242.5L1091.9 1242.5Z" fill="#000" stroke="none"/>
<path d="M1096.4 1304.9L1091.9 1284.9L1100.9 1284.9Z" fill="#000" stroke="none"/>
<path d="M1089.2 1222.5L1180.8 1222.5" stroke="#000" stroke-width="3"/>
<path d="M1089.2 1304.9L1180.8 1304.9" stroke="#000" stroke-width="3"/>
<path d="M1157.7 1471.8L1157.7 1619" stroke="#000" stroke-width="3"/>
<path d="M1184.7 1437.8L1184.7 1509.8" stroke="#000" stroke-width="3"/>
<path d="M1188.2 1376.5L1188.2 1562" stroke="#000" stroke-width="3"/>
<path d="M1361 1320.8L1361 1619" stroke="#000" stroke-width="3"/>
<path d="M1063.4 1503.5L1184.7 1503.5" stroke="#000" stroke-width="3"/>
<path d="M1157.7 1503.5L1137.7 1508L1137.7 1499Z" fill="#000" stroke="none"/>
<path d="M1184.7 1503.5L1219.5 1503.5" stroke="#000" stroke-width="3"/>
<path d="M1184.7 1503.5L1204.7 1499L1204.7 1508Z" fill="#000" stroke="none"/>
<path d="M1066.6 1555.4L1188.2 1555.4" stroke="#000" stroke-width="3"/>
<path d="M1157.7 1555.4L1137.7 1559.9L1137.7 1550.9Z" fill="#000" stroke="none"/>
<path d="M1188.2 1555.4L1223 1555.4" stroke="#000" stroke-width="3"/>
<path d="M1188.2 1555.4L1208.2 1550.9L1208.2 1559.9Z" fill="#000" stroke="none"/>
<path d="M1157.7 1612.9L1361 1612.9" stroke="#000" stroke-width="3"/>
<path d="M1157.7 1612.9L1177.7 1608.4L1177.7 1617.4Z" fill="#000" stroke="none"/>
<path d="M1361 1612.9L1341 1617.4L1341 1608.4Z" fill="#000" stroke="none"/>
<text x="1643" y="804.7" font-size="46.9" textLength="85.5" lengthAdjust="spacingAndGlyphs" fill="#000" stroke="#fff" stroke-width="0.6">304.5</text>
<text x="1563.3" y="878.1" font-size="46.9" textLength="84.7" lengthAdjust="spacingAndGlyphs" fill="#000" stroke="#fff" stroke-width="0.6">207.5</text>
<text x="2016.7" y="878.1" font-size="46.9" textLength="39.5" lengthAdjust="spacingAndGlyphs" fill="#000" stroke="#fff" stroke-width="0.6">97</text>
<text x="1273.6" y="998.4" font-size="46.9" textLength="40" lengthAdjust="spacingAndGlyphs" fill="#000" stroke="#fff" stroke-width="0.6">77</text>
<text x="1763.5" y="961.7" font-size="46.9" textLength="34.5" lengthAdjust="spacingAndGlyphs" fill="#000" stroke="#fff" stroke-width="0.6">12</text>
<text x="1981.7" y="961.7" font-size="46.9" textLength="34" lengthAdjust="spacingAndGlyphs" fill="#000" stroke="#fff" stroke-width="0.6">15</text>
<text x="1966" y="1079.5" font-size="46.9" textLength="19.5" lengthAdjust="spacingAndGlyphs" fill="#000" stroke="#fff" stroke-width="0.6">3</text>
<text x="2059.6" y="1137" font-size="46.9" textLength="41.2" lengthAdjust="spacingAndGlyphs" fill="#000" stroke="#fff" stroke-width="0.6">65</text>
<text x="2120.2" y="1387" font-size="46.9" textLength="39" lengthAdjust="spacingAndGlyphs" fill="#000" stroke="#fff" stroke-width="0.6">36</text>
<text x="1061.4" y="1495.9" font-size="46.9" textLength="19.1" lengthAdjust="spacingAndGlyphs" fill="#000" stroke="#fff" stroke-width="0.6">8</text>
<text x="1064.9" y="1548.1" font-size="46.9" textLength="19" lengthAdjust="spacingAndGlyphs" fill="#000" stroke="#fff" stroke-width="0.6">9</text>
<text x="1229.5" y="1604.7" font-size="46.9" textLength="68.7" lengthAdjust="spacingAndGlyphs" fill="#000" stroke="#fff" stroke-width="0.6">59.5</text>
<text transform="translate(992.2 1315.9) rotate(-90)" y="0" font-size="46.4" fill="#000" stroke="#fff" stroke-width="0.6"><tspan x="-0.6" dy="-3.2" font-size="51" textLength="17.9" lengthAdjust="spacingAndGlyphs">ø</tspan><tspan x="20.7" dy="3.2" textLength="8.6" lengthAdjust="spacingAndGlyphs"> </tspan><tspan x="34.1" textLength="40.2" lengthAdjust="spacingAndGlyphs">95</tspan><tspan x="71.3" textLength="40.2" lengthAdjust="spacingAndGlyphs">G6</tspan></text>
<text transform="translate(1087.9 1315.9) rotate(-90)" y="0" font-size="45.8" fill="#000" stroke="#fff" stroke-width="0.6"><tspan x="-0.6" dy="-3.2" font-size="50.4" textLength="17.9" lengthAdjust="spacingAndGlyphs">ø</tspan><tspan x="20.7" dy="3.2" textLength="8.6" lengthAdjust="spacingAndGlyphs"> </tspan><tspan x="33.7" textLength="37.1" lengthAdjust="spacingAndGlyphs">24</tspan><tspan x="71.3" textLength="40.2" lengthAdjust="spacingAndGlyphs">G6</tspan></text>
<text transform="translate(2254.6 1442.2) rotate(-90)" y="0" font-size="45.8" fill="#000" stroke="#fff" stroke-width="0.6"><tspan x="-1.3" textLength="45.6" lengthAdjust="spacingAndGlyphs">M6</tspan><tspan x="36.7" textLength="26.6" lengthAdjust="spacingAndGlyphs">x</tspan><tspan x="61.7" textLength="41.8" lengthAdjust="spacingAndGlyphs">2.0</tspan></text>
<text transform="translate(2315.8 1314.6) rotate(-90)" y="0" font-size="47.1" fill="#000" stroke="#fff" stroke-width="0.6"><tspan x="-0.6" dy="-3.3" font-size="51.8" textLength="16.9" lengthAdjust="spacingAndGlyphs">ø</tspan><tspan x="20.7" dy="3.3" textLength="8.6" lengthAdjust="spacingAndGlyphs"> </tspan><tspan x="35.4" textLength="42.8" lengthAdjust="spacingAndGlyphs">40</tspan><tspan x="79.1" textLength="40.2" lengthAdjust="spacingAndGlyphs">h6</tspan></text>
<text transform="translate(2369.1 1270.9) rotate(-90)" y="0" font-size="47.1" fill="#000" stroke="#fff" stroke-width="0.6"><tspan x="-1.3" textLength="42.8" lengthAdjust="spacingAndGlyphs">43</tspan></text>
<text transform="translate(2434.7 1320.7) rotate(-90)" y="0" font-size="47.1" fill="#000" stroke="#fff" stroke-width="0.6"><tspan x="-0.6" dy="-3.3" font-size="51.8" textLength="16.9" lengthAdjust="spacingAndGlyphs">ø</tspan><tspan x="19.7" dy="3.3" textLength="8.6" lengthAdjust="spacingAndGlyphs"> </tspan><tspan x="33.6" textLength="49.8" lengthAdjust="spacingAndGlyphs">130</tspan><tspan x="84.3" textLength="41.1" lengthAdjust="spacingAndGlyphs">g6</tspan></text>
<path d="M2730.1 1021L3135.1 1021L3175.4 1061.3L3175.4 1466.3L3135.1 1506.6L2730.1 1506.6L2689.8 1466.3L2689.8 1061.3Z" stroke="#000" stroke-width="1.8"/>
<circle cx="2932.6" cy="1263.8" r="281.7" stroke="#000" stroke-width="3.1"/>
<circle cx="2932.6" cy="1263.8" r="222.5" stroke="#000" stroke-width="1.8"/>
<circle cx="2932.6" cy="1263.8" r="188.5" stroke="#000" stroke-width="1.8"/>
<circle cx="2932.6" cy="1263.8" r="94" stroke="#000" stroke-width="1.8"/>
<circle cx="2932.6" cy="1263.8" r="68.7" stroke="#000" stroke-width="1.8"/>
<circle cx="2932.6" cy="1263.8" r="41" stroke="#000" stroke-width="1.8"/>
<circle cx="2932.6" cy="1263.8" r="28.2" stroke="#000" stroke-width="3"/>
<circle cx="2932.6" cy="1263.8" r="23.4" stroke="#000" stroke-width="1.2"/>
<path d="M2908.54 1272.56A25.6 25.6 0 1 0 2923.84 1239.74" stroke="#000" stroke-width="1"/>
<circle cx="2733.3" cy="1064.5" r="18.9" stroke="#000" stroke-width="1.8"/>
<path d="M2716.8 1048L2749.8 1081" stroke="#000" stroke-width="2.9"/>
<circle cx="2733.3" cy="1463.1" r="18.9" stroke="#000" stroke-width="1.8"/>
<path d="M2716.8 1479.6L2749.8 1446.6" stroke="#000" stroke-width="2.9"/>
<circle cx="3131.9" cy="1064.5" r="18.9" stroke="#000" stroke-width="1.8"/>
<path d="M3115.4 1081L3148.4 1048" stroke="#000" stroke-width="2.9"/>
<circle cx="3131.9" cy="1463.1" r="18.9" stroke="#000" stroke-width="1.8"/>
<path d="M3115.4 1446.6L3148.4 1479.6" stroke="#000" stroke-width="2.9"/>
<path d="M2728.3 1263.8L3135.4 1263.8" stroke="#000" stroke-width="2.8"/>
<path d="M2932.6 1060.8L2932.6 1466.9" stroke="#000" stroke-width="2.8"/>
<path d="M2912 1197L2912 1186.4L2953.2 1186.4L2953.2 1197" stroke="#000" stroke-width="1.8"/>
<path d="M2912 1189.2L2953.2 1189.2" stroke="#000" stroke-width="1.8"/>
<path d="M2912 1135.8L2912 1175.9" stroke="#000" stroke-width="3"/>
<path d="M2953.2 1135.8L2953.2 1175.9" stroke="#000" stroke-width="3"/>
<path d="M2877.4 1141.8L3019.7 1141.8" stroke="#000" stroke-width="3"/>
<path d="M2912 1141.8L2892 1146.3L2892 1137.3Z" fill="#000" stroke="none"/>
<path d="M2953.2 1141.8L2973.2 1137.3L2973.2 1146.3Z" fill="#000" stroke="none"/>
<text x="2990.5" y="1135" font-size="46.9" textLength="33" lengthAdjust="spacingAndGlyphs" fill="#000" stroke="#fff" stroke-width="0.6">12</text>
<path d="M2708.4 1433.2L3216.3 1047.3L3382.3 1047.3" stroke="#000" stroke-width="3"/>
<path d="M2708.4 1433.2L2721.6 1417.5L2727.1 1424.7Z" fill="#000" stroke="none"/>
<path d="M3152 1098L3138.8 1113.7L3133.4 1106.5Z" fill="#000" stroke="none"/>
<text y="1039.9" font-size="46.2" fill="#000" stroke="#fff" stroke-width="0.6"><tspan x="3214.6" textLength="82.3" lengthAdjust="spacingAndGlyphs">P.C.D.</tspan><tspan x="3304.6" dy="-3.2" font-size="50.8" textLength="18.8" lengthAdjust="spacingAndGlyphs">ø</tspan><tspan x="3326.7" dy="3.2" textLength="8.6" lengthAdjust="spacingAndGlyphs"> </tspan><tspan x="3339.6" textLength="54" lengthAdjust="spacingAndGlyphs">165</tspan></text>
<path d="M2689.8 904L2689.8 1048.3" stroke="#000" stroke-width="3"/>
<path d="M3175.3 904L3175.3 1048.3" stroke="#000" stroke-width="3"/>
<path d="M2689.8 910.9L3175.3 910.9" stroke="#000" stroke-width="3"/>
<path d="M2689.8 910.9L2709.8 906.4L2709.8 915.4Z" fill="#000" stroke="none"/>
<path d="M3175.3 910.9L3155.3 915.4L3155.3 906.4Z" fill="#000" stroke="none"/>
<rect x="2903.6" y="875.5" width="23.3" height="23.8" stroke="#000" stroke-width="2.9"/>
<text x="2926.5" y="903.6" font-size="46.9" textLength="55" lengthAdjust="spacingAndGlyphs" fill="#000" stroke="#fff" stroke-width="0.6">142</text>
<path d="M3155.3 1490.9L3223.6 1563.4L3299.4 1563.4" stroke="#000" stroke-width="3"/>
<path d="M3155.3 1490.9L3172.3 1502.4L3165.7 1508.6Z" fill="#000" stroke="none"/>
<text y="1556.3" font-size="47.1" fill="#000" stroke="#fff" stroke-width="0.6"><tspan x="3221.7" dy="-3.3" font-size="51.8" textLength="18.5" lengthAdjust="spacingAndGlyphs">ø</tspan><tspan x="3243.7" dy="3.3" textLength="8.6" lengthAdjust="spacingAndGlyphs"> </tspan><tspan x="3256.8" textLength="53.8" lengthAdjust="spacingAndGlyphs">185</tspan></text>
<path d="M2721.3 1474.4L2650.1 1584.6L2556.2 1584.6" stroke="#000" stroke-width="3"/>
<path d="M2721.3 1474.4L2714.2 1493.6L2706.6 1488.7Z" fill="#000" stroke="none"/>
<text y="1576.8" font-size="47.1" fill="#000" stroke="#fff" stroke-width="0.6"><tspan x="2554.9" textLength="18.8" lengthAdjust="spacingAndGlyphs">4</tspan><tspan x="2574.5" textLength="22.1" lengthAdjust="spacingAndGlyphs">-</tspan><tspan x="2587" dy="-3.3" font-size="51.8" textLength="18" lengthAdjust="spacingAndGlyphs">ø</tspan><tspan x="2607.7" dy="3.3" textLength="8.6" lengthAdjust="spacingAndGlyphs"> </tspan><tspan x="2621.6" textLength="26.4" lengthAdjust="spacingAndGlyphs">11</tspan></text>
<ellipse cx="3142.4" cy="85" rx="48.7" ry="27.9" stroke="#000" stroke-width="2"/>
<ellipse cx="3142.4" cy="85" rx="29.2" ry="16.4" stroke="#000" stroke-width="2"/>
<path d="M3162.40 97.50A20 11 0 0 0 3122.40 97.50" stroke="#000" stroke-width="2"/>
<path d="M3151.40 100.00A9 4 0 0 0 3133.40 100.00" stroke="#000" stroke-width="1.6"/>
<path d="M3150.40 101.50A8 2 0 1 0 3150.40 101.50" stroke="#000" stroke-width="1.6"/>
<path d="M3093.8 85L3093.8 246.9" stroke="#000" stroke-width="2"/>
<path d="M3191.2 85L3191.2 234" stroke="#000" stroke-width="2"/>
<path d="M3093.70 239.70A48.7 27.9 0 0 0 3190.63 243.58" stroke="#000" stroke-width="2"/>
<path d="M3164 127L3164 232.5Q3164 239 3170 243.5Q3178 249 3185 244Q3191.2 238 3191.2 230" stroke="#000" stroke-width="2"/>
<path d="M3164 127Q3164 119 3171 115Q3177 112 3182 113.5Q3191.2 118 3191.2 130" stroke="#000" stroke-width="2"/>
<path d="M3171.3 132Q3171.3 122 3178 118Q3184 115.5 3191.2 121" stroke="#000" stroke-width="2"/>
<path d="M3171.3 132L3171.3 238" stroke="#000" stroke-width="2"/>
<path d="M3171.3 238Q3172 243 3176 246.5" stroke="#000" stroke-width="2"/>
<path d="M3164 232.5L3171.3 238" stroke="#000" stroke-width="1.5"/>
<path d="M3093.80 213.11A66.4 38 0 1 0 3198.09 218.30" stroke="#000" stroke-width="2"/>
<path d="M3076.00 245.70A66.4 38 0 0 0 3208.80 245.70" stroke="#000" stroke-width="2"/>
<path d="M3076 239L3076 245.7" stroke="#000" stroke-width="2"/>
<path d="M3208.8 239L3208.8 245.7" stroke="#000" stroke-width="2"/>
<path d="M3093.77 162.06A155.7 89.2 0 1 0 3191.03 162.06" stroke="#000" stroke-width="2"/>
<path d="M2986.70 275.80A155.7 89.2 0 0 0 3298.10 275.80" stroke="#000" stroke-width="2"/>
<path d="M2986.7 246.8L2986.7 275.8" stroke="#000" stroke-width="2"/>
<path d="M3298.1 246.8L3298.1 275.8" stroke="#000" stroke-width="2"/>
<path d="M3093.81 174.81A132 75.6 0 1 0 3190.99 174.81" stroke="#000" stroke-width="2"/>
<path d="M2991 224L2921.6 263.3L2921.6 310.4L2954 329.2L2959.9 332.9" stroke="#000" stroke-width="2"/>
<path d="M3293.8 224L3363.2 263.3L3363.2 310.4L3330.8 329.2L3324.9 332.9" stroke="#000" stroke-width="2"/>
<path d="M2921.6 288.5L3122.4 402.1L3122.4 425" stroke="#000" stroke-width="2"/>
<path d="M3363.2 288.5L3162.4 402.1L3162.4 425" stroke="#000" stroke-width="2"/>
<path d="M3122.4 402.1L3162.4 402.1" stroke="#000" stroke-width="2"/>
<path d="M3122.4 425.2L3162.4 425.2" stroke="#000" stroke-width="2"/>
<path d="M3084.7 403.2L3122.4 424.8" stroke="#000" stroke-width="2"/>
<path d="M3200.1 403.2L3162.4 424.8" stroke="#000" stroke-width="2"/>
<ellipse cx="2945.1" cy="275.2" rx="13.6" ry="8.3" stroke="#000" stroke-width="2"/>
<ellipse cx="3339.7" cy="275.2" rx="13.6" ry="8.3" stroke="#000" stroke-width="2"/>
<ellipse cx="3142.4" cy="389.1" rx="13.2" ry="8.1" stroke="#000" stroke-width="2"/>
<path d="M2954 329.2L2954 499.1L2959.9 510" stroke="#000" stroke-width="2"/>
<path d="M3330.8 329.2L3330.8 499.1L3324.9 510" stroke="#000" stroke-width="2"/>
<path d="M2959.9 332.9L2959.9 510" stroke="#000" stroke-width="2"/>
<path d="M3324.9 332.9L3324.9 510" stroke="#000" stroke-width="2"/>
<path d="M2959.9 510Q2966 528 2983.8 542.6C3020 566 3060 581 3085 586.5C3105 591 3125 598.6 3142.4 598.6C3159.8 598.6 3179.8 591 3199.8 586.5C3224.8 581 3264.8 566 3301 542.6Q3318.8 528 3324.9 510" stroke="#000" stroke-width="2"/>
<path d="M3084.7 403.2L3084.7 586.6" stroke="#000" stroke-width="2"/>
<path d="M3200.1 403.2L3200.1 586.6" stroke="#000" stroke-width="2"/>
<path d="M3110.8 420L3110.8 589.6" stroke="#000" stroke-width="2"/>
<path d="M3174 420L3174 589.6" stroke="#000" stroke-width="2"/>
<path d="M3125.4 425.5L3125.4 594.9" stroke="#000" stroke-width="2"/>
<path d="M3159.4 425.5L3159.4 594.9" stroke="#000" stroke-width="2"/>
<path d="M3084.7 586.6L3110.8 589.8L3125.4 594.9Q3134 596.3 3142.4 596.3Q3150.8 596.3 3159.4 594.9L3174 589.8L3200.1 586.6" stroke="#000" stroke-width="1.7"/>
<path d="M2954 444.6Q2955 453 2959.9 458.8L3084.7 530.6Q3098 535.8 3109 535C3122 533 3128 521.3 3142.4 521.3C3156.8 521.3 3162.8 533 3175.8 535Q3186.8 535.8 3200.1 530.6L3324.9 458.8Q3329.8 453 3330.8 444.6" stroke="#000" stroke-width="1.7"/>
<path d="M2954 447.8Q2955 456.2 2959.9 462L3084.7 533.8Q3098 539 3109 538.2C3122 536.2 3128 524.5 3142.4 524.5C3156.8 524.5 3162.8 536.2 3175.8 538.2Q3186.8 539 3200.1 533.8L3324.9 462Q3329.8 456.2 3330.8 447.8" stroke="#000" stroke-width="1.7"/>
<path d="M2960.2 574.2L2983.8 542.6" stroke="#000" stroke-width="2"/>
<path d="M3324.6 574.2L3301 542.6" stroke="#000" stroke-width="2"/>
<path d="M2983.8 542.6Q2989.5 560 2990.4 582.9Q2972 584 2960.2 590.5" stroke="#000" stroke-width="2"/>
<path d="M2990.4 556L2990.4 582.9" stroke="#000" stroke-width="2"/>
<path d="M3301 542.6Q3295.3 560 3294.4 582.9Q3312.8 584 3324.6 590.5" stroke="#000" stroke-width="2"/>
<path d="M3294.4 556L3294.4 582.9" stroke="#000" stroke-width="2"/>
<path d="M2960.2 574.2L2960.2 686.6L3130.3 785.8L3142.4 785.8" stroke="#000" stroke-width="2"/>
<path d="M3324.6 574.2L3324.6 686.6L3154.5 785.8L3142.4 785.8" stroke="#000" stroke-width="2"/>
<path d="M3131.2 785.8L3131.2 688.1L3142.4 688.1" stroke="#000" stroke-width="2"/>
<path d="M3153.6 785.8L3153.6 688.1L3142.4 688.1" stroke="#000" stroke-width="2"/>
<path d="M2990.4 557.9L3093 616.5Q3097 619 3099.5 619.5Q3120 623.8 3142.4 623.8Q3164.8 623.8 3185.3 619.5Q3187.8 619 3191.8 616.5L3294.4 557.9" stroke="#000" stroke-width="2"/>
<path d="M2990.4 561.1L3093 619.7Q3097 622.2 3099.5 622.7Q3120 627 3142.4 627Q3164.8 627 3185.3 622.7Q3187.8 622.2 3191.8 619.7L3294.4 561.1" stroke="#000" stroke-width="2"/>
<path d="M3099.5 597.5L3099.5 645.6L3131.2 688.1" stroke="#000" stroke-width="2"/>
<path d="M3185.3 597.5L3185.3 645.6L3153.6 688.1" stroke="#000" stroke-width="2"/>
<path d="M3099.5 597.5Q3120 601 3142.4 601Q3164.8 601 3185.3 597.5" stroke="#000" stroke-width="1.8"/>
<path d="M3099.5 645.6Q3120 650 3142.4 650Q3164.8 650 3185.3 645.6" stroke="#000" stroke-width="1.8"/>
<ellipse cx="3277.1" cy="677.8" rx="11.5" ry="18.6" transform="rotate(27 3277.1 677.8)" stroke="#000" stroke-width="2"/>
</svg>
</body></html>
